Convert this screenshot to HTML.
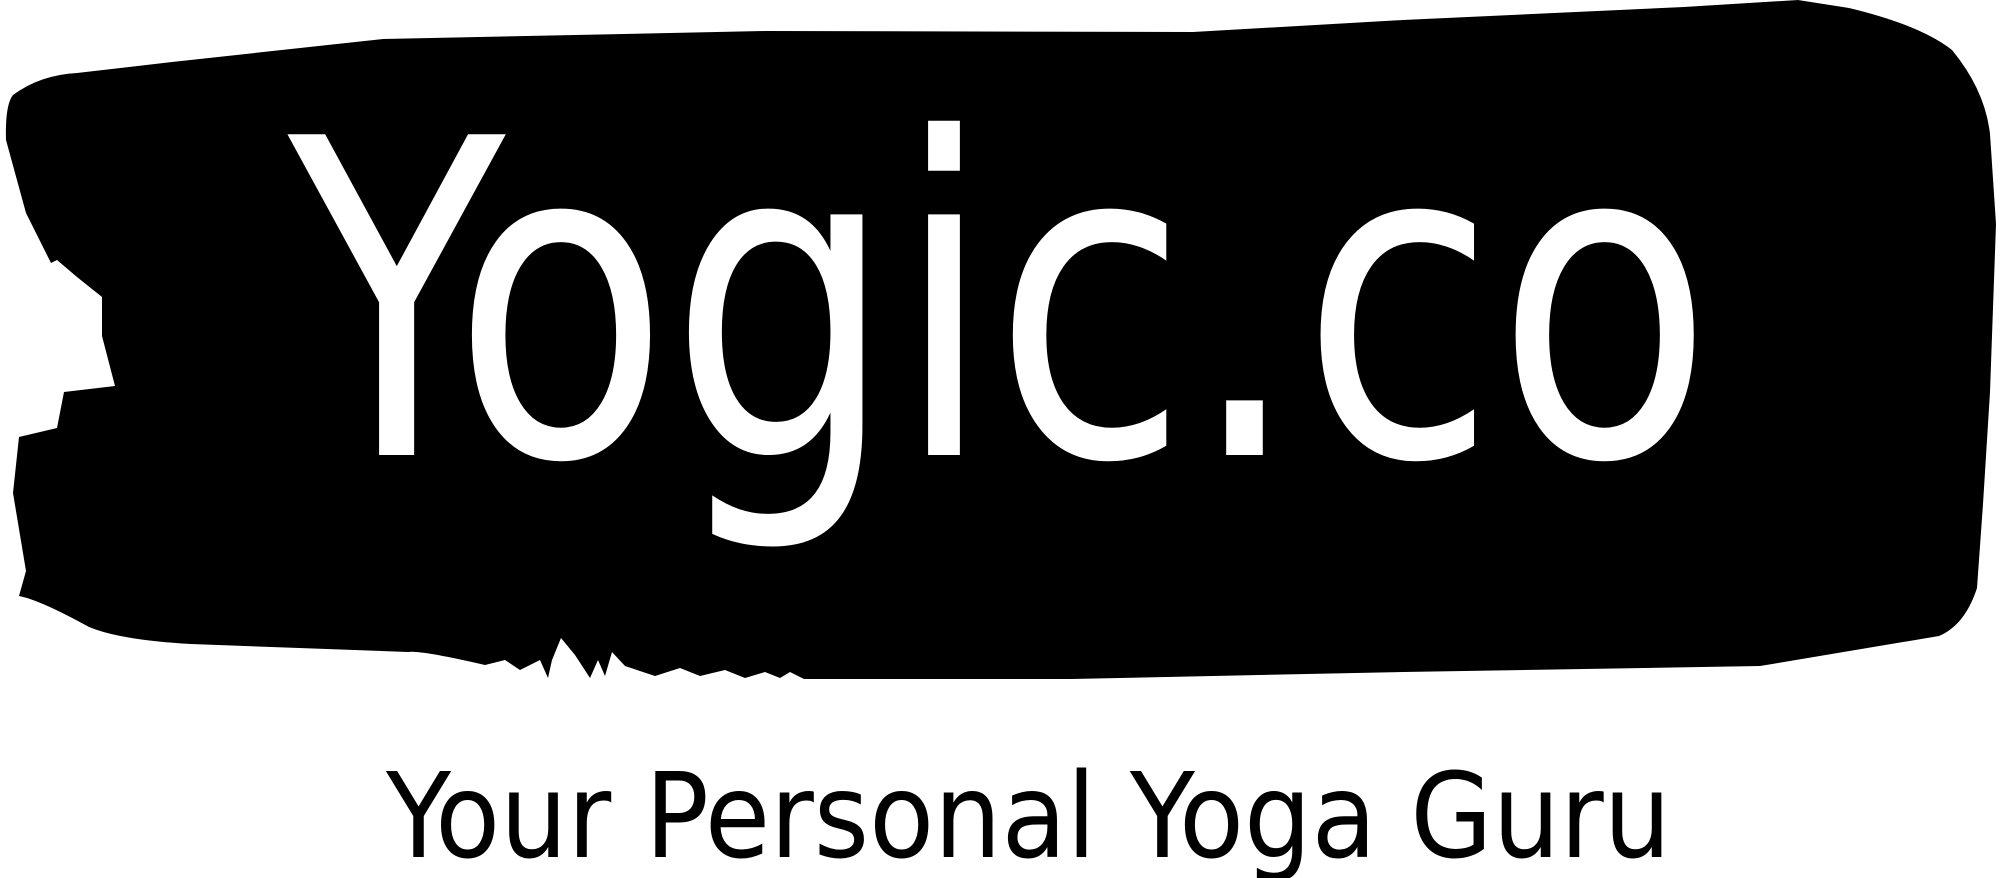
<!DOCTYPE html>
<html><head><meta charset="utf-8"><style>
html,body{margin:0;padding:0;background:#fff;width:2000px;height:878px;overflow:hidden}
svg{display:block}
</style></head><body>
<svg width="2000" height="878" viewBox="0 0 2000 878" xmlns="http://www.w3.org/2000/svg">
<path fill="#000" d="M172,62 L383,39 L765,31 L1193,32 L1403,20 L1684,7 L1798,0 L1849,8 Q1920,25 1952,50 Q1985,90 1990,134 L1996,224 L1990,392 L1983,504 L1977,588 Q1965,625 1939,636 L1760,666 L1403,672 L1071,679 L804,679 L790,672 L780,678 L765,672 L745,678 L725,670 L700,676 L680,668 L655,676 L625,666 L612,652 L605,676 L598,660 L590,678 L575,655 L561,638 L552,660 L548,678 L540,660 L520,670 L505,660 L485,665 Q420,650 408,652 L191,644 Q120,640 89,627 Q40,600 19,596 L26,571 L13,493 L19,437 L57,428 L64,392 L115,386 L102,336 L102,297 L77,277 L57,260 L51,263 L26,213 L6,140 Q5,105 13,95 Q40,75 77,73 Z"/>
<text x="288" y="455" font-family="'DejaVu Sans Condensed','DejaVu Sans',sans-serif" font-size="440" fill="#fff" textLength="1425" lengthAdjust="spacingAndGlyphs">Yogic.co</text>
<text x="386" y="857" font-family="'DejaVu Sans Condensed','DejaVu Sans',sans-serif" font-size="118" fill="#000" textLength="1285" lengthAdjust="spacingAndGlyphs">Your Personal Yoga Guru</text>
</svg>
</body></html>
